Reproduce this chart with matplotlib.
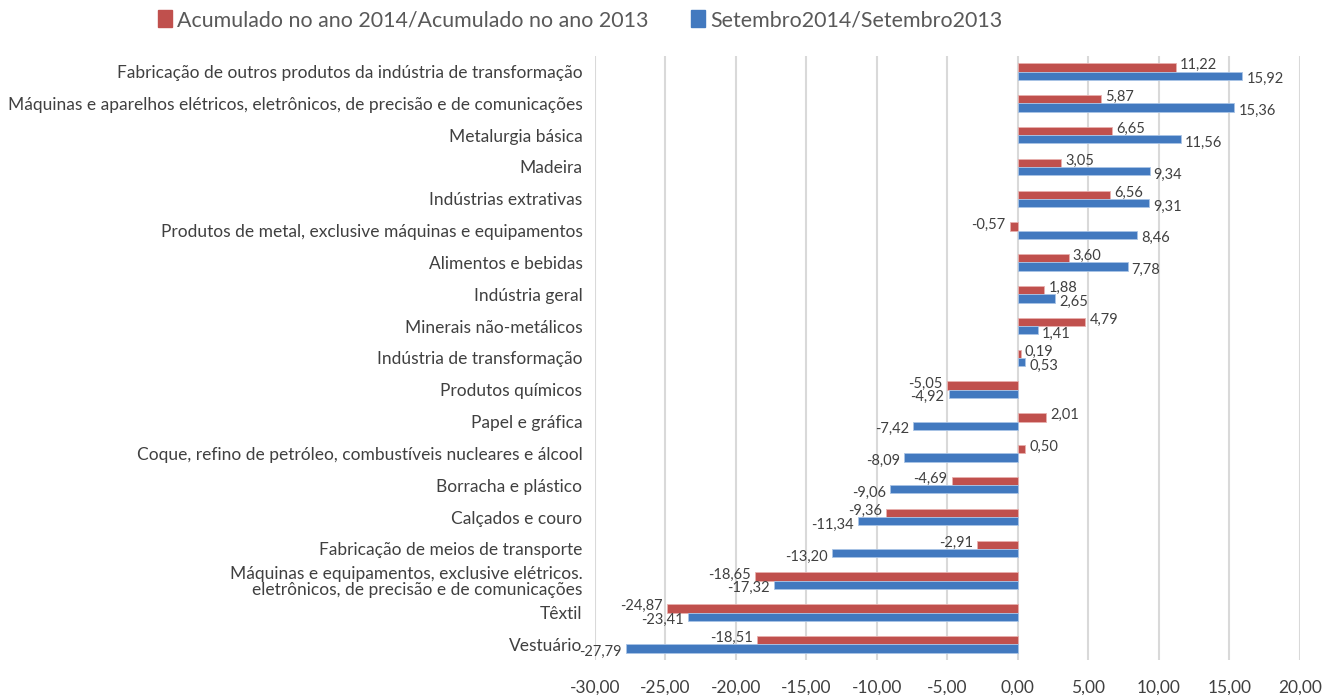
import numpy as np
import matplotlib.pyplot as plt

categories = [
    "Fabricação de outros produtos da indústria de transformação",
    "Máquinas e aparelhos elétricos, eletrônicos, de precisão e de comunicações",
    "Metalurgia básica",
    "Madeira",
    "Indústrias extrativas",
    "Produtos de metal, exclusive máquinas e equipamentos",
    "Alimentos e bebidas",
    "Indústria geral",
    "Minerais não-metálicos",
    "Indústria de transformação",
    "Produtos químicos",
    "Papel e gráfica",
    "Coque, refino de petróleo, combustíveis nucleares e álcool",
    "Borracha e plástico",
    "Calçados e couro",
    "Fabricação de meios de transporte",
    "Máquinas e equipamentos, exclusive elétricos.\neletrônicos, de precisão e de comunicações",
    "Têxtil",
    "Vestuário",
]
acumulado = [11.22, 5.87, 6.65, 3.05, 6.56, -0.57, 3.60, 1.88, 4.79, 0.19,
             -5.05, 2.01, 0.50, -4.69, -9.36, -2.91, -18.65, -24.87, -18.51]
setembro = [15.92, 15.36, 11.56, 9.34, 9.31, 8.46, 7.78, 2.65, 1.41, 0.53,
            -4.92, -7.42, -8.09, -9.06, -11.34, -13.20, -17.32, -23.41, -27.79]
series_names = ["Acumulado no ano 2014/Acumulado no ano 2013",
                "Setembro2014/Setembro2013"]
xticks = [-30, -25, -20, -15, -10, -5, 0, 5, 10, 15, 20]

RED = "#C0504D"
BLUE = "#4279BF"
TXT = "#404040"

plt.rcParams['font.family'] = ['Lato', 'DejaVu Sans']

fig = plt.figure(figsize=(13.25, 6.95), dpi=100)
ax = fig.add_axes([0.449, 0.05, 0.532, 0.870])

y = np.arange(len(categories))
h = 0.26
ax.barh(y - h / 2, acumulado, height=h, color=RED, edgecolor="#E8B0AE", linewidth=0.6, zorder=3)
ax.barh(y + h / 2, setembro, height=h, color=BLUE, edgecolor="#A9C4E6", linewidth=0.6, zorder=3)


def fmt(v):
    return f"{v:.2f}".replace(".", ",")


for yi, v in zip(y, acumulado):
    ax.annotate(fmt(v), (v, yi - h / 2), xytext=(3 if v >= 0 else -3, 1.5),
                textcoords="offset points", ha="left" if v >= 0 else "right",
                va="center", fontsize=10.5, color=TXT)
for yi, v in zip(y, setembro):
    ax.annotate(fmt(v), (v, yi + h / 2), xytext=(3 if v >= 0 else -3, -2.5),
                textcoords="offset points", ha="left" if v >= 0 else "right",
                va="center", fontsize=10.5, color=TXT)

ax.set_xlim(-30, 20)
ax.set_ylim(len(categories) - 0.5, -0.5)
ax.set_xticks(xticks)
ax.set_xticklabels([fmt(t) for t in xticks], fontsize=12.5, color=TXT)
ax.set_yticks(y)
ax.set_yticklabels(categories, fontsize=12.5, color=TXT, linespacing=1.0)
ax.tick_params(axis="both", length=0)
ax.tick_params(axis="y", pad=9)
ax.tick_params(axis="x", pad=14)
ax.xaxis.grid(True, color="#D9D9D9", linewidth=1.5, zorder=0)
ax.set_axisbelow(True)
for s in ax.spines.values():
    s.set_visible(False)

handles = [plt.Rectangle((0, 0), 1, 1, color=RED), plt.Rectangle((0, 0), 1, 1, color=BLUE)]
fig.legend(handles, series_names, loc="center", bbox_to_anchor=(0.438, 0.971), ncol=2,
           frameon=False, fontsize=15.4, handlelength=0.65, handleheight=0.85,
           handletextpad=0.25, columnspacing=2.0, labelcolor="#595959")

fig.savefig("out.png", dpi=100)
